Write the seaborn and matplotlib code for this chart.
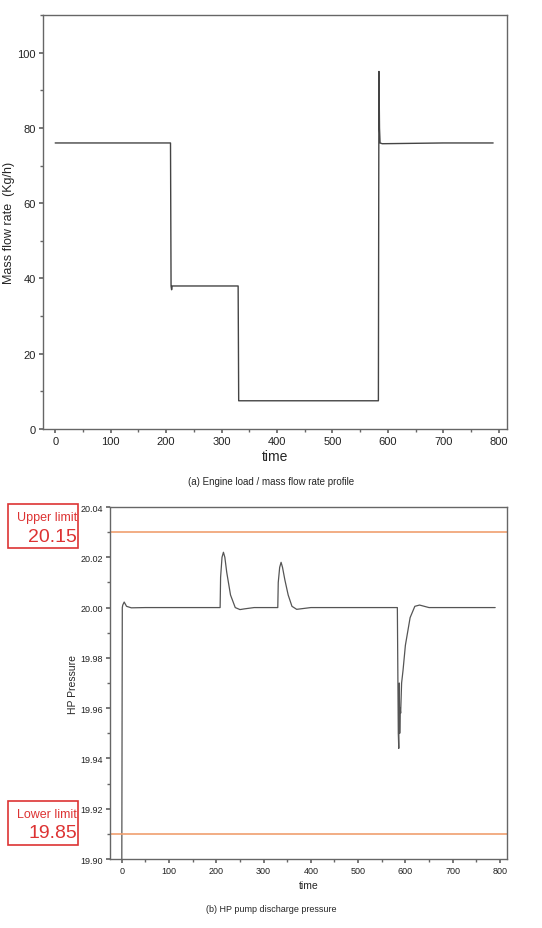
import matplotlib
matplotlib.use("Agg")
import matplotlib.pyplot as plt
import seaborn as sns
import pandas as pd
from matplotlib.patches import Rectangle

sns.set_theme(style="white")
plt.rcParams['font.family'] = ['Liberation Sans', 'DejaVu Sans']

# (a) mass flow rate profile
t_flow = [0, 208, 209, 210, 211, 330, 331, 583, 584, 585, 586, 590, 700, 790]
flow = [76, 76, 38, 37, 38, 38, 7.5, 7.5, 95, 80, 76, 75.8, 76, 76]

# (b) HP pump discharge pressure
t_p = [0, 1, 2, 5, 10, 20, 50, 100, 208, 209, 212, 215, 218, 222, 230, 240, 250, 260, 280, 330, 331, 334, 337, 340, 345, 352, 360, 370, 400, 500, 583, 584, 585, 586, 587, 588, 589, 590, 592, 595, 600, 610, 620, 630, 650, 700, 790]
pres = [19.90, 20.0, 20.001, 20.0022, 20.0005, 19.9999, 20.0, 20.0, 20.0, 20.012, 20.02, 20.022, 20.02, 20.014, 20.005, 20.0, 19.9992, 19.9995, 20.0, 20.0, 20.01, 20.016, 20.018, 20.016, 20.011, 20.005, 20.0005, 19.9993, 20.0, 20.0, 20.0, 19.975, 19.95, 19.944, 19.97, 19.95, 19.96, 19.958, 19.97, 19.975, 19.985, 19.996, 20.0005, 20.001, 20.0, 20.0, 20.0]

upper_line, lower_line = 20.03, 19.91

fig = plt.figure(figsize=(5.42, 9.29), dpi=100)
W, H = 542, 929
ax1 = fig.add_axes([43/W, 1-430/H, (507-43)/W, (430-16)/H])
ax2 = fig.add_axes([110/W, 1-860/H, (507-110)/W, (860-508)/H])

sns.lineplot(x=t_flow, y=flow, ax=ax1, color="#444444", lw=1)
ax1.set_xlim(-22, 815); ax1.set_ylim(0, 110)
ax1.set_yticks([0, 20, 40, 60, 80, 100])
ax1.set_xticks(range(0, 801, 100))
ax1.set_xlabel("time", fontsize=10, labelpad=2)
ax1.set_ylabel("Mass flow rate  (Kg/h)", fontsize=9, labelpad=2)
fig.text(0.5, 1-485/H, "(a) Engine load / mass flow rate profile", ha="center", fontsize=7)

sns.lineplot(x=t_p, y=pres, ax=ax2, color="#555555", lw=0.9)
ax2.axhline(upper_line, color="#f0a070", lw=1.2)
ax2.axhline(lower_line, color="#f0a070", lw=1.2)
ax2.set_xlim(-25, 815); ax2.set_ylim(19.90, 20.04)
ax2.set_yticks([19.90, 19.92, 19.94, 19.96, 19.98, 20.00, 20.02, 20.04])
ax2.set_xticks(range(0, 801, 100))
ax2.set_xlabel("time", fontsize=7.5)
ax2.set_ylabel("HP Pressure", fontsize=7.5, labelpad=2)
fig.text(0.5, 1-912/H, "(b) HP pump discharge pressure", ha="center", fontsize=6.5)

for ax, fs in ((ax1, 8), (ax2, 6.5)):
    for s in ax.spines.values():
        s.set_color("#666666"); s.set_linewidth(1)
    ax.tick_params(axis="both", labelsize=fs, length=3, direction="out", color="#666666",
                   bottom=True, left=True, colors="#222222", pad=2)
    ax.xaxis.set_minor_locator(matplotlib.ticker.MultipleLocator(50))
    ax.tick_params(which="minor", length=2, bottom=True, color="#666666")
ax1.yaxis.set_minor_locator(matplotlib.ticker.MultipleLocator(10))
ax2.yaxis.set_minor_locator(matplotlib.ticker.MultipleLocator(0.01))
ax1.tick_params(which="minor", left=True, length=2)
ax2.tick_params(which="minor", left=True, length=2)

for (y0, lab, val) in ((505, "Upper limit", "20.15"), (802, "Lower limit", "19.85")):
    fig.add_artist(Rectangle((8/W, 1-(y0+44)/H), 70/W, 44/H, transform=fig.transFigure,
                             fill=False, edgecolor="#dd3333", lw=1.2))
    fig.text(77/W, 1-(y0+13)/H, lab, ha="right", va="center", color="#dd3333", fontsize=9)
    fig.text(77/W, 1-(y0+32)/H, val, ha="right", va="center", color="#dd3333", fontsize=14)

fig.savefig("out.png", dpi=100, facecolor="white")
